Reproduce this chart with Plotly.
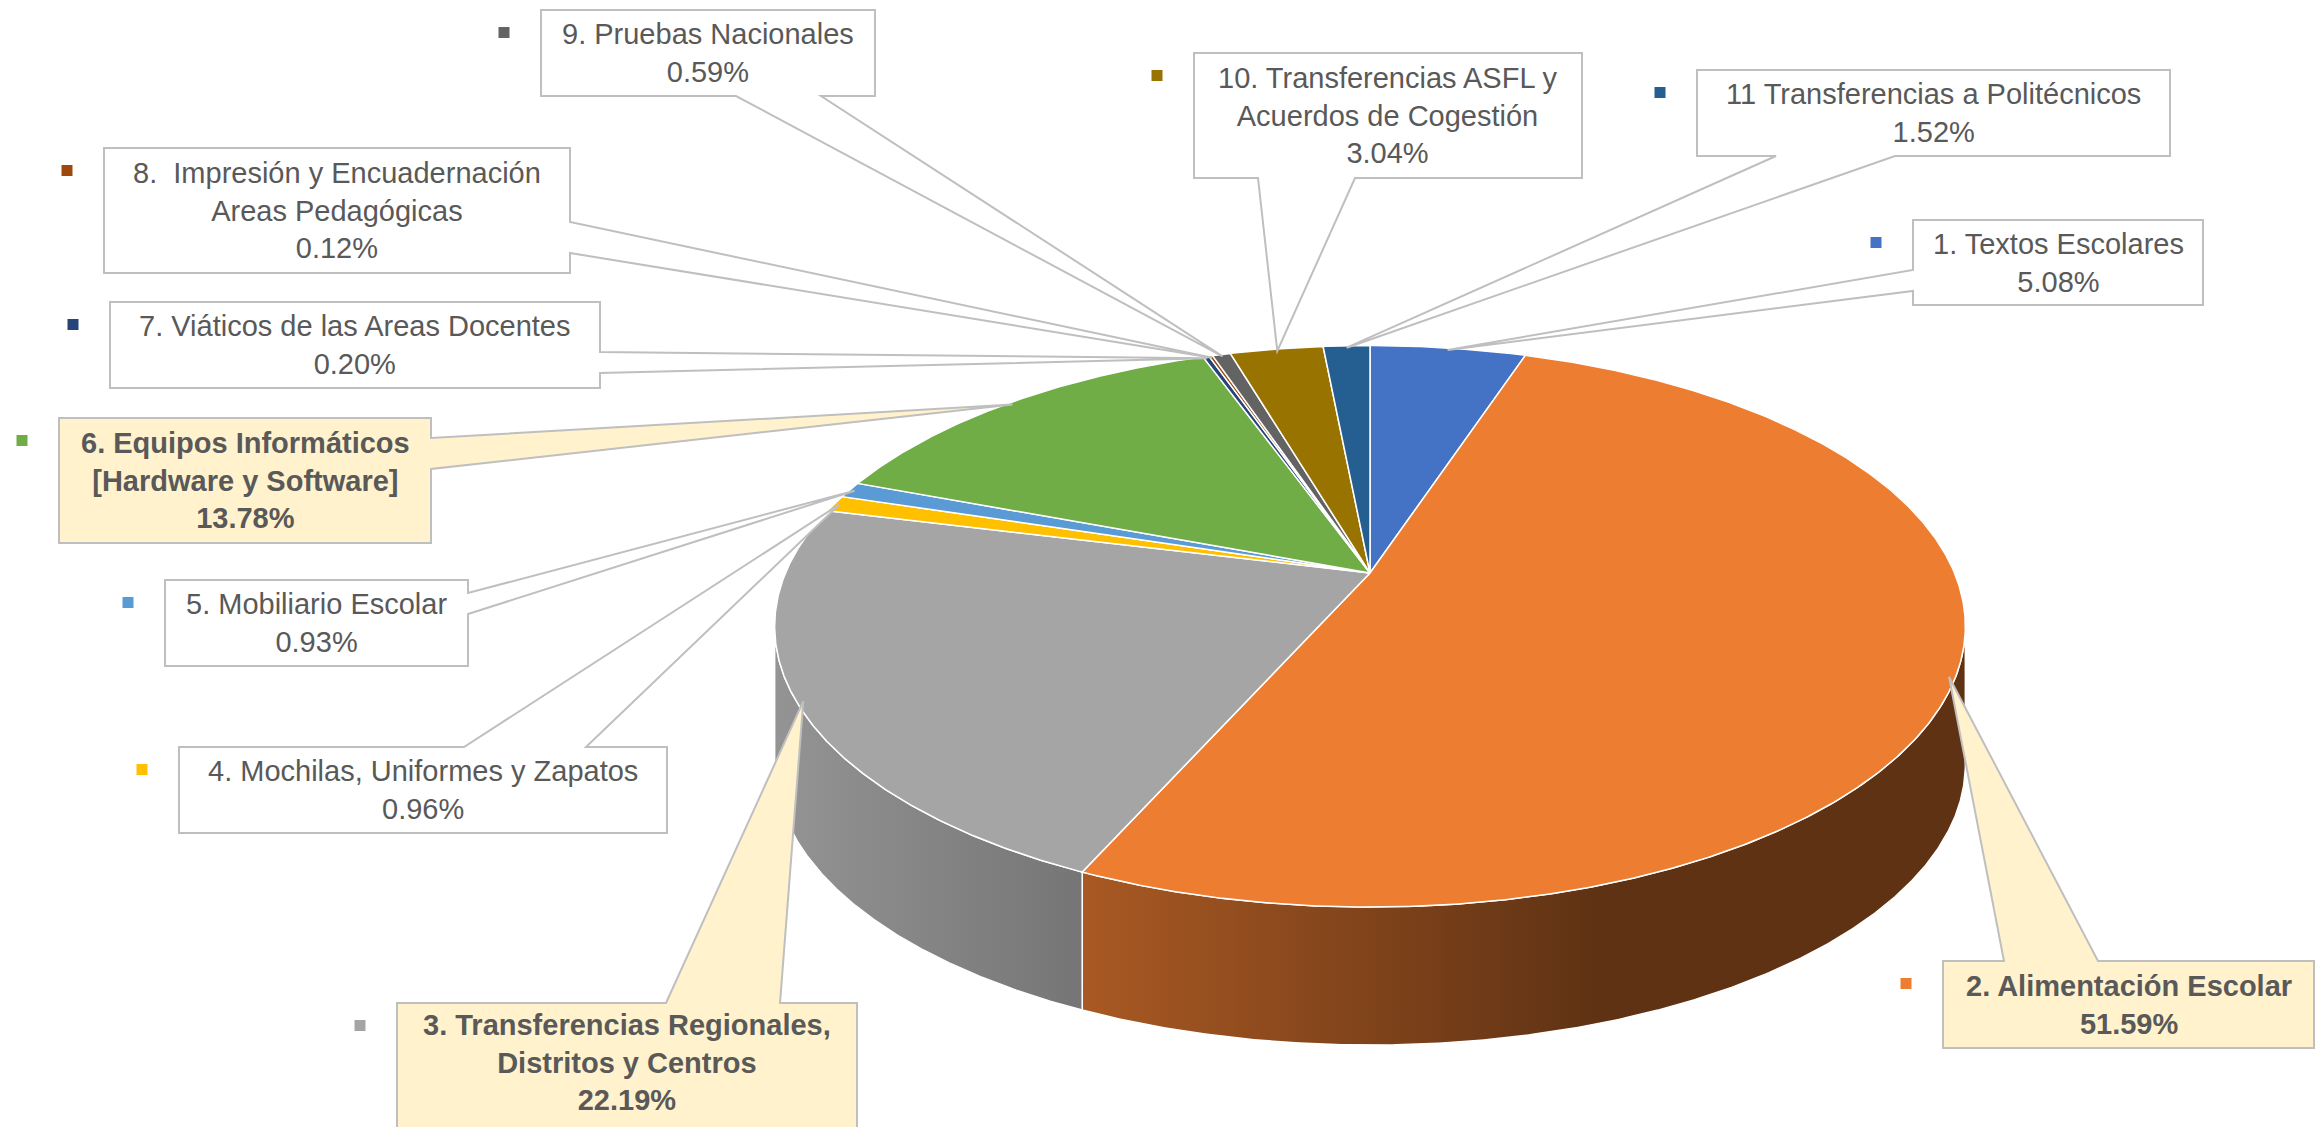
import numpy as np
import plotly.graph_objects as go

# ---------------- data ----------------
categories = [
    "1. Textos Escolares",
    "2. Alimentación Escolar",
    "3. Transferencias Regionales,\nDistritos y Centros",
    "4. Mochilas, Uniformes y Zapatos",
    "5. Mobiliario Escolar",
    "6. Equipos Informáticos\n[Hardware y Software]",
    "7. Viáticos de las Areas Docentes",
    "8.  Impresión y Encuadernación\nAreas Pedagógicas",
    "9. Pruebas Nacionales",
    "10. Transferencias ASFL y\nAcuerdos de Cogestión",
    "11 Transferencias a Politécnicos",
]
shares = [5.08, 51.59, 22.19, 0.96, 0.93, 13.78, 0.20, 0.12, 0.59, 3.04, 1.52]
highlighted = [False, True, True, False, False, True, False, False, False, False, False]

# ---------------- styles ----------------
colors = ["#4472C4", "#ED7D31", "#A5A5A5", "#FFC000", "#5B9BD5", "#70AD47",
          "#264478", "#9E480E", "#636363", "#997300", "#255E91"]
TEXT_COLOR = "#595959"
BORDER = "#BFBFBF"
HILITE = "#FFF2CC"
FONT = "Liberation Sans, Arial, sans-serif"
FS = 29

W, H = 2316, 1127
# pie geometry (pixels), simple perspective projection of a tilted disc
XC, YC = 1370.0, 573.0
RA, RB, K, DEPTH = 584.5, 270.6, 0.19, 138.0

# callout boxes: (x0, y0, x1, y1, edge, base_a, base_b)
boxes = [
    (1913, 220, 2203, 305, "left", 270, 291),
    (1943, 961, 2314, 1048, "top", 2004, 2098),
    (397, 1003, 857, 1150, "top", 666, 780),
    (179, 747, 667, 833, "top", 464, 586),
    (165, 580, 468, 666, "right", 593, 614),
    (59, 418, 431, 543, "right", 438, 469),
    (110, 302, 600, 388, "right", 352, 373),
    (104, 148, 570, 273, "right", 222, 253),
    (541, 10, 875, 96, "bottom", 736, 821),
    (1194, 53, 1582, 178, "bottom", 1258, 1355),
    (1697, 70, 2170, 156, "bottom", 1776, 1895),
]
text_center_override = {2: 1062}


def proj(theta_deg, r=1.0, dz=0.0):
    t = np.radians(np.asarray(theta_deg, dtype=float))
    u = r * np.sin(t)
    v = -r * np.cos(t)
    w = 1 - K * v
    return XC + RA * u / w, YC + RB * v / w + dz


def shade(hexc, f):
    h = hexc.lstrip("#")
    r, g, b = (int(h[i:i + 2], 16) for i in (0, 2, 4))
    return "rgb(%d,%d,%d)" % (round(r * f), round(g * f), round(b * f))


total = sum(shares)
ends = np.cumsum(shares) / total * 360.0
starts = np.concatenate([[0.0], ends[:-1]])

fig = go.Figure()

# side walls (front visible arc between silhouette points)
a_sil = np.degrees(np.arcsin(K))
th_r, th_l = 90 + a_sil, 270 - a_sil
x_left_sil = XC - RA / np.sqrt(1 - K * K)
grad_stop = XC + 0.39 * RA
for i, (s, e) in enumerate(zip(starts, ends)):
    a, b = max(s, th_r), min(e, th_l)
    if a >= b:
        continue
    th = np.linspace(a, b, max(int((b - a) * 3), 4))
    xt, yt = proj(th)
    xb, yb = proj(th[::-1], dz=DEPTH)
    xs = np.concatenate([xt, xb, xt[:1]])
    ys = np.concatenate([yt, yb, yt[:1]])
    fig.add_trace(go.Scatter(
        x=xs, y=ys, mode="lines", fill="toself",
        line=dict(color="white", width=1.5),
        fillgradient=dict(type="horizontal",
                          colorscale=[[0, shade(colors[i], 0.9)], [1, shade(colors[i], 0.4)]],
                          start=x_left_sil, stop=grad_stop),
        hoverinfo="skip", showlegend=False))

# top faces
for i, (s, e) in enumerate(zip(starts, ends)):
    th = np.linspace(s, e, max(int((e - s) * 3), 3))
    xa, ya = proj(th)
    xs = np.concatenate([[XC], xa, [XC]])
    ys = np.concatenate([[YC], ya, [YC]])
    fig.add_trace(go.Scatter(
        x=xs, y=ys, mode="lines", fill="toself", fillcolor=colors[i],
        line=dict(color="white", width=1.5),
        hoverinfo="skip", showlegend=False))

# callouts
shapes = []
annotations = []
mids = (starts + ends) / 2
for i, bx in enumerate(boxes):
    x0, y0, x1, y1, edge, ba, bb = bx
    px, py = proj(mids[i], r=0.99)
    px, py = float(px), float(py)
    if edge == "bottom":
        pts = [(x0, y0), (x1, y0), (x1, y1), (bb, y1), (px, py), (ba, y1), (x0, y1)]
    elif edge == "top":
        pts = [(x0, y0), (ba, y0), (px, py), (bb, y0), (x1, y0), (x1, y1), (x0, y1)]
    elif edge == "right":
        pts = [(x0, y0), (x1, y0), (x1, ba), (px, py), (x1, bb), (x1, y1), (x0, y1)]
    else:
        pts = [(x0, y0), (x1, y0), (x1, y1), (x0, y1), (x0, bb), (px, py), (x0, ba)]
    path = "M " + " L ".join("%.1f,%.1f" % p for p in pts) + " Z"
    shapes.append(dict(type="path", path=path, xref="x", yref="y",
                       fillcolor=HILITE if highlighted[i] else "white",
                       line=dict(color=BORDER, width=2), layer="above"))
    lines = categories[i].split("\n") + ["%.2f%%" % shares[i]]
    txt = "<br>".join(("<b>%s</b>" % l) if highlighted[i] else l for l in lines)
    cy = text_center_override.get(i, (y0 + y1) / 2)
    annotations.append(dict(x=(x0 + x1) / 2, y=cy, xref="x", yref="y", text=txt,
                            showarrow=False, xanchor="center", yanchor="middle",
                            align="center",
                            font=dict(family=FONT, size=FS, color=TEXT_COLOR)))

# legend keys next to the callouts
fig.add_trace(go.Scatter(
    x=[b[0] - 37 for b in boxes], y=[b[1] + 22.5 for b in boxes],
    mode="markers", marker=dict(symbol="square", size=11, color=colors),
    hoverinfo="skip", showlegend=False))

fig.update_layout(
    width=W, height=H, margin=dict(l=0, r=0, t=0, b=0),
    paper_bgcolor="white", plot_bgcolor="white",
    xaxis=dict(range=[0, W], visible=False, fixedrange=True),
    yaxis=dict(range=[H, 0], visible=False, fixedrange=True),
    shapes=shapes, annotations=annotations, showlegend=False, hovermode=False,
)

fig.write_html("out.html", config={"displayModeBar": False},
               post_script="document.body.style.margin='0px';document.body.style.overflow='hidden';")
